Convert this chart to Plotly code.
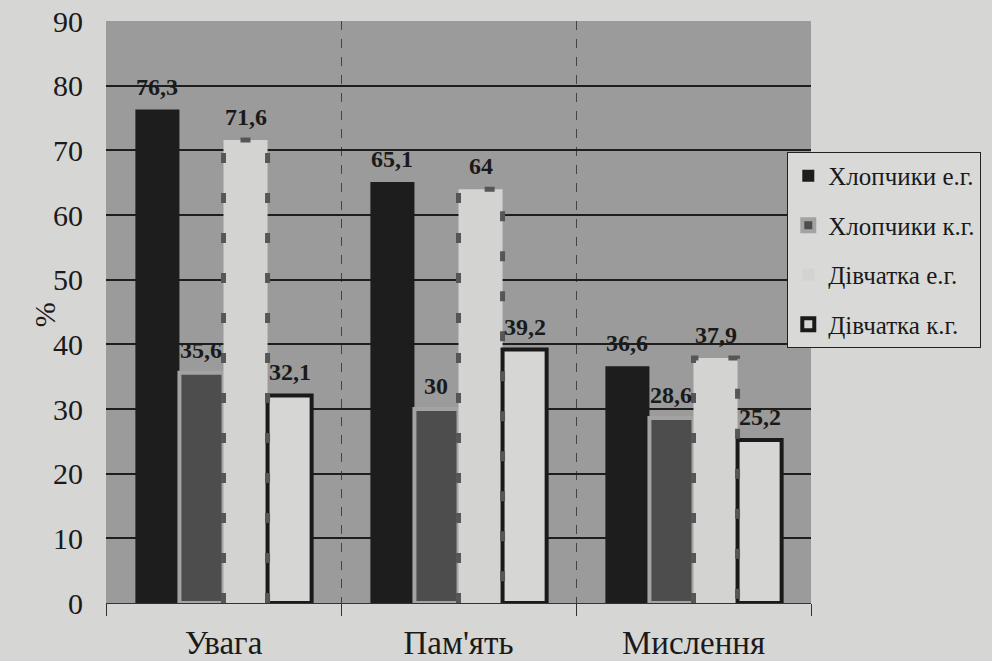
import plotly.graph_objects as go

categories = ["Увага", "Пам'ять", "Мислення"]
series_names = ["Хлопчики е.г.", "Хлопчики к.г.", "Дівчатка е.г.", "Дівчатка к.г."]
boys_exp = [76.3, 65.1, 36.6]
boys_ctrl = [35.6, 30, 28.6]
girls_exp = [71.6, 64, 37.9]
girls_ctrl = [32.1, 39.2, 25.2]
y_ticks = [0, 10, 20, 30, 40, 50, 60, 70, 80, 90]

series = [boys_exp, boys_ctrl, girls_exp, girls_ctrl]
fills = ["#1d1d1d", "#4d4d4d", "#d3d3d1", "#d6d6d4"]
lines = ["#1d1d1d", "#a3a3a3", "#d3d3d1", "#1a1a1a"]
lwidths = [0, 4, 0, 4]

FONT = "Times New Roman"
n = len(series)
bargap = 0.25
slot = (1 - bargap) / n
xs = list(range(len(categories)))

fig = go.Figure()
for i, (name, vals) in enumerate(zip(series_names, series)):
    fig.add_trace(go.Bar(
        x=xs, y=vals, name=name, legendgroup=name,
        marker=dict(color=fills[i], line=dict(color=lines[i], width=lwidths[i])),
    ))

# dashed outline for "Дівчатка е.г." bars, computed from data
ox, oy = [], []
for j, v in enumerate(girls_exp):
    x0 = j - (1 - bargap) / 2 + 2 * slot
    x1 = x0 + slot
    ox += [x0, x0, x1, x1, None]
    oy += [0, v, v, 0, None]
fig.add_trace(go.Scatter(x=ox, y=oy, mode="lines", showlegend=False, hoverinfo="skip",
                         line=dict(color="#565656", width=5, dash="10px,30px")))

def fmt(v):
    return f"{v:g}".replace(".", ",")

annotations = []
for i, vals in enumerate(series):
    for j, v in enumerate(vals):
        cx = j - (1 - bargap) / 2 + (i + 0.5) * slot
        annotations.append(dict(x=cx, y=v, xref="x", yref="y", text="<b>" + fmt(v) + "</b>",
                                showarrow=False, yanchor="bottom", yshift=8,
                                font=dict(family=FONT, size=24, color="#1a1a1a")))
annotations.append(dict(x=-0.086, y=0.495, xref="paper", yref="paper", text="%",
                        showarrow=False, textangle=-90, xanchor="center", yanchor="middle",
                        font=dict(family=FONT, size=30, color="#1a1a1a")))

fig.update_layout(
    width=992, height=661,
    margin=dict(l=106, r=180, t=21, b=58),
    paper_bgcolor="#d6d6d4",
    plot_bgcolor="#9b9b9b",
    barmode="group", bargap=bargap, bargroupgap=0,
    font=dict(family=FONT, color="#1a1a1a"),
    annotations=annotations,
    showlegend=True,
    legend=dict(x=0.965, y=0.775, xanchor="left", yanchor="top",
                bgcolor="#d9d9d7", bordercolor="#222222", borderwidth=1,
                font=dict(family=FONT, size=25, color="#1a1a1a"),
                tracegroupgap=14, traceorder="grouped", itemwidth=30),
    xaxis=dict(range=[-0.5, 2.5], tickvals=xs, ticktext=categories, automargin=False,
               ticks="", showgrid=False, zeroline=False,
               showline=True, linecolor="#333333", linewidth=1,
               tickfont=dict(family=FONT, size=33, color="#1a1a1a"),
               ticklabelstandoff=10,
               minor=dict(tickvals=[-0.5, 0.5, 1.5, 2.5], ticks="outside", ticklen=12,
                          tickcolor="#333333", tickwidth=1,
                          showgrid=True, gridcolor="#444444", griddash="dash", gridwidth=1)),
    yaxis=dict(range=[0, 90], tickvals=y_ticks, ticks="", showgrid=True, automargin=False,
               gridcolor="#1e1e1e", gridwidth=2, zeroline=False, showline=False,
               tickfont=dict(family=FONT, size=30, color="#1a1a1a"),
               ticklabelstandoff=22, ticklabeloverflow="allow"),
)

fig.write_html("out.html", config={"displayModeBar": False},
               post_script="document.body.style.margin='0';")
